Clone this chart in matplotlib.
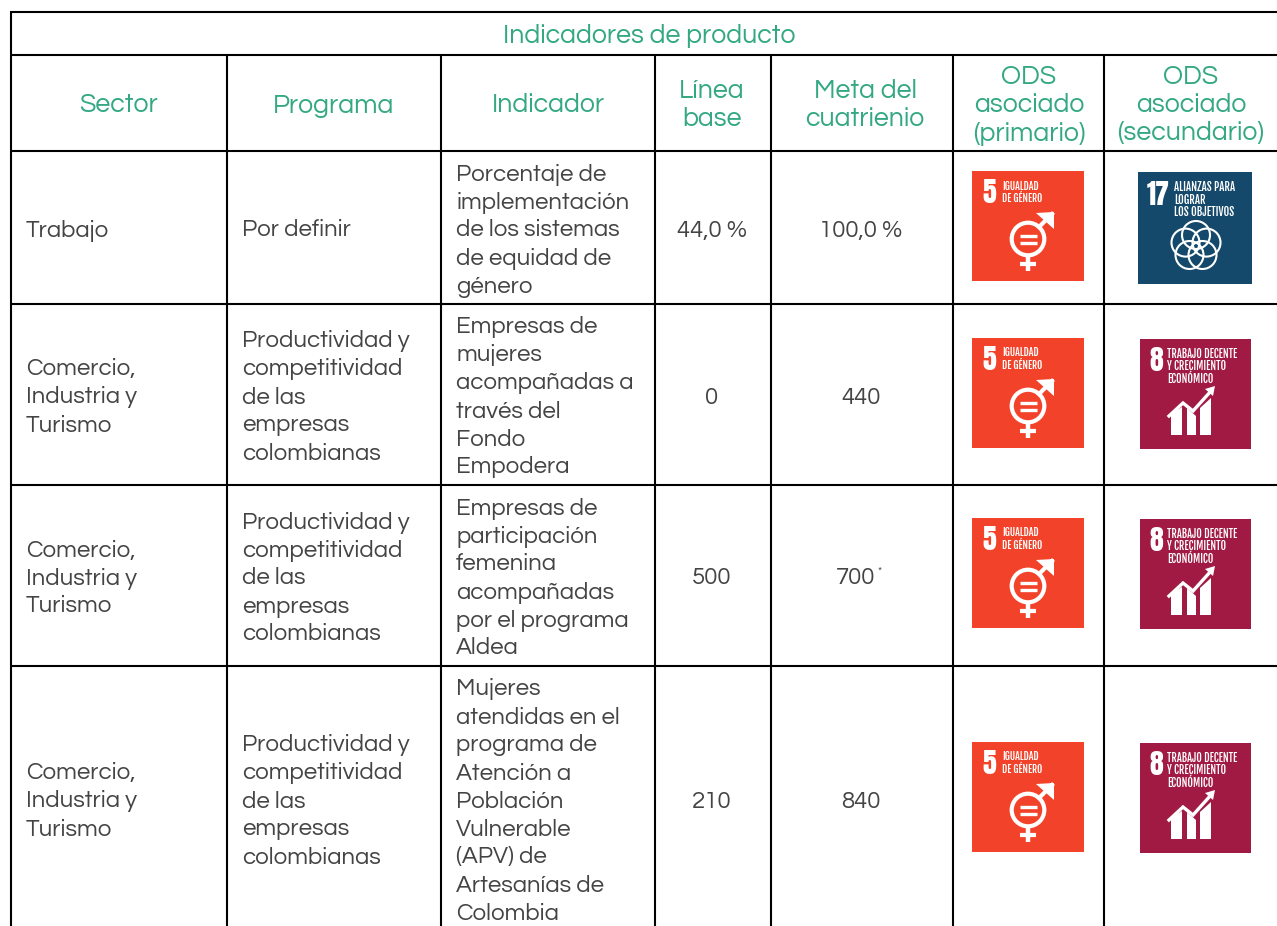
import matplotlib
matplotlib.use("Agg")
import matplotlib.pyplot as plt
from matplotlib.patches import Rectangle, Circle, Polygon

title = "Indicadores de producto"
headers = [["Sector"], ["Programa"], ["Indicador"], ["Línea", "base"], ["Meta del", "cuatrienio"],
           ["ODS", "asociado", "(primario)"], ["ODS", "asociado", "(secundario)"]]
prog = ["Productividad y", "competitividad", "de las", "empresas", "colombianas"]
com = ["Comercio,", "Industria y", "Turismo"]
sectors = [["Trabajo"], com, com, com]
programs = [["Por definir"], prog, prog, prog]
indicators = [
    ["Porcentaje de", "implementación", "de los sistemas", "de equidad de", "género"],
    ["Empresas de", "mujeres", "acompañadas a", "través del", "Fondo", "Empodera"],
    ["Empresas de", "participación", "femenina", "acompañadas", "por el programa", "Aldea"],
    ["Mujeres", "atendidas en el", "programa de", "Atención a", "Población", "Vulnerable", "(APV) de", "Artesanías de", "Colombia"],
]
baselines = ["44,0 %", "0", "500", "210"]
goals = ["100,0 %", "440", "700", "840"]
ods_secondary = [17, 8, 8, 8]

FONT = ["Questrial", "Inter", "Open Sans", "DejaVu Sans"]
FS = 17.3
HFS = 19.3
WEIGHT = "normal"
LH = 28
GREEN = "#33A883"
DARK = "#444444"
NARROW = ["Fjalla One", "Oswald", "Roboto Condensed", "DejaVu Sans"]
NUM = ["Anton", "Fjalla One", "Oswald", "DejaVu Sans"]

xs = [11, 227, 441, 655, 771, 953, 1104]
ys = [12, 55, 151, 304, 485, 666]
row_c = [228, 395, 576, 799]
goal_x = [861, 861, 856, 861]

fig = plt.figure(figsize=(12.77, 9.26), dpi=100, facecolor="white")
ax = fig.add_axes([0, 0, 1, 1])
ax.set_xlim(0, 1277)
ax.set_ylim(926, 0)
ax.axis("off")


def block(x, yc, lines, ha="left", color=DARK, fs=FS):
    y0 = yc - LH * (len(lines) - 1) / 2
    for i, s in enumerate(lines):
        ax.text(x, y0 + i * LH, s, ha=ha, va="center_baseline", color=color,
                fontsize=fs, family=FONT, fontweight=WEIGHT)


def tile_text(x0, y0, x, y, s, fs, fam=NARROW):
    ax.text(x0 + x, y0 + y, s, color="white", fontsize=fs, family=fam, fontweight="normal",
            ha="left", va="center_baseline")


def icon5(x0, y0, w=112, h=110):
    ax.add_patch(Rectangle((x0, y0), w, h, fc="#F2432A", ec="none"))
    tile_text(x0, y0, 10, 20, "5", 20, NUM)
    tile_text(x0, y0, 30, 14, "IGUALDAD", 7.2)
    tile_text(x0, y0, 30, 26, "DE GÉNERO", 7.2)
    cx, cy = x0 + 56, y0 + 68
    ax.add_patch(Circle((cx, cy), 16.3, fc="none", ec="white", lw=3.0))
    ax.plot([cx - 8.5, cx + 8.5], [cy - 3.5, cy - 3.5], color="white", lw=2.4, solid_capstyle="butt")
    ax.plot([cx - 8.5, cx + 8.5], [cy + 3.5, cy + 3.5], color="white", lw=2.4, solid_capstyle="butt")
    ax.plot([cx + 11, cx + 24], [cy - 12, cy - 25], color="white", lw=3.0)
    ax.add_patch(Polygon([(cx + 8, cy - 26), (cx + 26, cy - 27), (cx + 26, cy - 10)], fc="white", ec="none"))
    ax.plot([cx, cx], [cy + 18, cy + 32], color="white", lw=3.2, solid_capstyle="butt")
    ax.plot([cx - 8, cx + 8], [cy + 25, cy + 25], color="white", lw=3.0, solid_capstyle="butt")


def icon17(x0, y0, w=114, h=112):
    ax.add_patch(Rectangle((x0, y0), w, h, fc="#14496B", ec="none"))
    tile_text(x0, y0, 9, 21, "17", 20, NUM)
    for i, s in enumerate(["ALIANZAS PARA", "LOGRAR", "LOS OBJETIVOS"]):
        tile_text(x0, y0, 36, 14 + i * 12.5, s, 7.8)
    cx, cy = x0 + 58, y0 + 74
    offs = [(0, -11), (10.5, -3.4), (6.5, 9), (-6.5, 9), (-10.5, -3.4)]
    for dx, dy in offs:
        ax.add_patch(Circle((cx + dx, cy + dy), 14, fc="none", ec="white", lw=1.5))


def icon8(x0, y0, w=111, h=110):
    ax.add_patch(Rectangle((x0, y0), w, h, fc="#A01A43", ec="none"))
    tile_text(x0, y0, 9, 20, "8", 20, NUM)
    for i, s in enumerate(["TRABAJO DECENTE", "Y CRECIMIENTO", "ECONÓMICO"]):
        tile_text(x0, y0, 27, 14 + i * 12.5, s, 7.6)
    bars = [[(31, 96), (31, 75), (42, 68), (42, 96)],
            [(47, 96), (47, 69), (56, 77), (56, 96)],
            [(60, 96), (60, 69), (71, 59), (71, 96)]]
    for b in bars:
        ax.add_patch(Polygon([(x0 + a, y0 + c) for a, c in b], fc="white", ec="none"))
    ax.plot([x0 + 29, x0 + 43, x0 + 53, x0 + 71], [y0 + 77, y0 + 64, y0 + 72, y0 + 52],
            color="white", lw=2.4, solid_joinstyle="miter")
    ax.add_patch(Polygon([(x0 + 65, y0 + 50), (x0 + 75, y0 + 47), (x0 + 73, y0 + 57)], fc="white", ec="none"))


ax.text(649, 34, title, ha="center", va="center_baseline", color=GREEN, fontsize=HFS, family=FONT, fontweight=WEIGHT)
hcx = [119, 334, 548, 712, 865, 1029, 1191]
for cx, h in zip(hcx, headers):
    block(cx, 103, h, ha="center", color=GREEN, fs=HFS)

for i, yc in enumerate(row_c):
    block(26, yc, sectors[i])
    block(242, yc, programs[i])
    block(456, yc, indicators[i])
    block(712, yc, [baselines[i]], ha="center")
    block(goal_x[i], yc, [goals[i]], ha="center")
ax.text(880, 572, "*", fontsize=8, color=DARK, family=FONT, ha="center", va="center")

p_y = [171, 338, 518, 742]
s_y = [172, 339, 519, 743]
for i in range(4):
    icon5(972, p_y[i])
    if ods_secondary[i] == 17:
        icon17(1138, s_y[i])
    else:
        icon8(1140, s_y[i])

LW = 1.5
for y in ys:
    ax.plot([10, 1277], [y, y], color="black", lw=LW, solid_capstyle="butt")
ax.plot([xs[0], xs[0]], [11, 926], color="black", lw=LW, solid_capstyle="butt")
for x in xs[1:]:
    ax.plot([x, x], [55, 926], color="black", lw=LW, solid_capstyle="butt")

fig.savefig("out.png", dpi=100)
